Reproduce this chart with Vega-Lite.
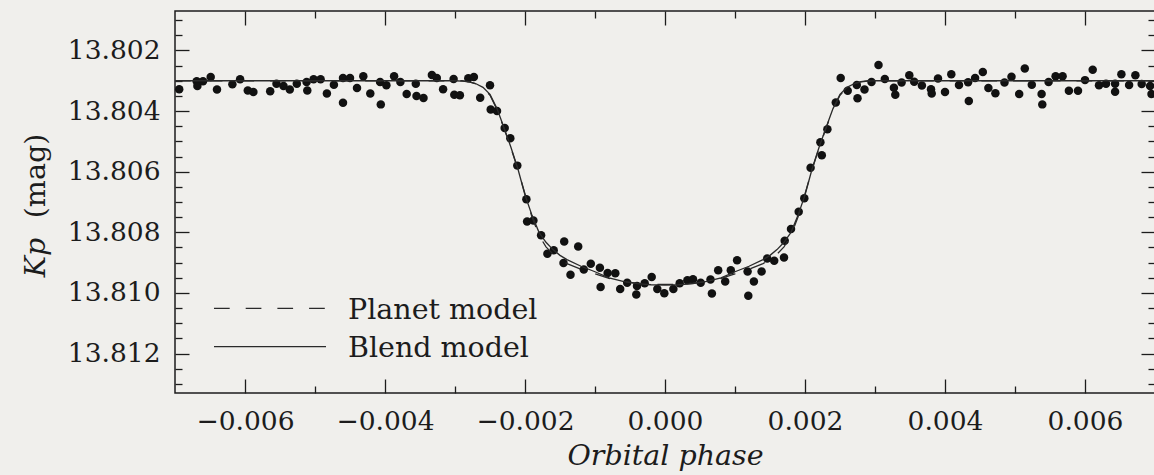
{
  "$schema": "https://vega.github.io/schema/vega-lite/v6.json",
  "width": 980,
  "height": 382,
  "autosize": {"type": "none"},
  "padding": {"left": 175, "top": 11, "right": 0, "bottom": 82},
  "background": "#f0efec",
  "config": {
    "view": {"stroke": "#1c1c1c", "strokeWidth": 1.5},
    "font": "DejaVu Serif",
    "axis": {
      "domain": false,
      "grid": false,
      "tickColor": "#1c1c1c",
      "tickWidth": 1.3,
      "labelFont": "DejaVu Serif",
      "labelFontSize": 26.5,
      "labelColor": "#1c1c1c",
      "titleFont": "DejaVu Serif",
      "titleFontSize": 28.5,
      "titleFontWeight": "normal",
      "titleColor": "#1c1c1c"
    }
  },
  "datasets": {
    "phot": [
      {"phase": -0.00694, "kp": 13.80328}, {"phase": -0.00669, "kp": 13.80302}, {"phase": -0.00668, "kp": 13.80317},
      {"phase": -0.0066, "kp": 13.80302}, {"phase": -0.00649, "kp": 13.80288}, {"phase": -0.0064, "kp": 13.80329},
      {"phase": -0.00618, "kp": 13.80312}, {"phase": -0.00607, "kp": 13.80295}, {"phase": -0.00596, "kp": 13.80332},
      {"phase": -0.00588, "kp": 13.80337}, {"phase": -0.00564, "kp": 13.80335}, {"phase": -0.00555, "kp": 13.8031},
      {"phase": -0.00545, "kp": 13.80317}, {"phase": -0.00536, "kp": 13.80329}, {"phase": -0.00526, "kp": 13.8031},
      {"phase": -0.00512, "kp": 13.80304}, {"phase": -0.00511, "kp": 13.80332}, {"phase": -0.00502, "kp": 13.80295},
      {"phase": -0.00492, "kp": 13.80295}, {"phase": -0.00483, "kp": 13.80342}, {"phase": -0.00473, "kp": 13.80313},
      {"phase": -0.0046, "kp": 13.80291}, {"phase": -0.0046, "kp": 13.80373}, {"phase": -0.0045, "kp": 13.80291},
      {"phase": -0.0044, "kp": 13.80324}, {"phase": -0.00431, "kp": 13.80285}, {"phase": -0.00421, "kp": 13.80342},
      {"phase": -0.00407, "kp": 13.80304}, {"phase": -0.00406, "kp": 13.80378}, {"phase": -0.00398, "kp": 13.80315},
      {"phase": -0.00387, "kp": 13.80285}, {"phase": -0.00378, "kp": 13.80304}, {"phase": -0.00369, "kp": 13.80344},
      {"phase": -0.00356, "kp": 13.8031}, {"phase": -0.00355, "kp": 13.8035}, {"phase": -0.00345, "kp": 13.80357},
      {"phase": -0.00333, "kp": 13.80281}, {"phase": -0.00326, "kp": 13.80291}, {"phase": -0.00317, "kp": 13.80328},
      {"phase": -0.00302, "kp": 13.80294}, {"phase": -0.00301, "kp": 13.80346}, {"phase": -0.00293, "kp": 13.80348},
      {"phase": -0.00281, "kp": 13.80292}, {"phase": -0.00273, "kp": 13.80288}, {"phase": -0.00264, "kp": 13.80356},
      {"phase": -0.0025, "kp": 13.80315}, {"phase": -0.00249, "kp": 13.80395}, {"phase": -0.0024, "kp": 13.804},
      {"phase": -0.00229, "kp": 13.80456}, {"phase": -0.00221, "kp": 13.8049}, {"phase": -0.00211, "kp": 13.8058},
      {"phase": -0.00198, "kp": 13.80691}, {"phase": -0.00197, "kp": 13.80764}, {"phase": -0.00188, "kp": 13.80761},
      {"phase": -0.00177, "kp": 13.8081}, {"phase": -0.00168, "kp": 13.80871}, {"phase": -0.00159, "kp": 13.80859},
      {"phase": -0.00144, "kp": 13.8083}, {"phase": -0.00145, "kp": 13.80901}, {"phase": -0.00135, "kp": 13.8094},
      {"phase": -0.00124, "kp": 13.80847}, {"phase": -0.00116, "kp": 13.80923}, {"phase": -0.00106, "kp": 13.80904},
      {"phase": -0.00093, "kp": 13.80917}, {"phase": -0.00092, "kp": 13.8098}, {"phase": -0.00082, "kp": 13.80934},
      {"phase": -0.00071, "kp": 13.80935}, {"phase": -0.00064, "kp": 13.80987}, {"phase": -0.00054, "kp": 13.80966},
      {"phase": -0.0004, "kp": 13.80977}, {"phase": -0.00041, "kp": 13.81005}, {"phase": -0.00029, "kp": 13.80968},
      {"phase": -0.00019, "kp": 13.80947}, {"phase": -0.00011, "kp": 13.80987}, {"phase": -0.00001, "kp": 13.81001},
      {"phase": 0.00012, "kp": 13.80987}, {"phase": 0.00021, "kp": 13.80968}, {"phase": 0.00032, "kp": 13.80958},
      {"phase": 0.0004, "kp": 13.80955}, {"phase": 0.00051, "kp": 13.80966}, {"phase": 0.00065, "kp": 13.80956},
      {"phase": 0.00067, "kp": 13.81002}, {"phase": 0.00076, "kp": 13.80925}, {"phase": 0.00086, "kp": 13.80962},
      {"phase": 0.00094, "kp": 13.80925}, {"phase": 0.00103, "kp": 13.80892}, {"phase": 0.00118, "kp": 13.80929},
      {"phase": 0.00119, "kp": 13.81009}, {"phase": 0.00127, "kp": 13.80962}, {"phase": 0.00138, "kp": 13.80929},
      {"phase": 0.00146, "kp": 13.80886}, {"phase": 0.00156, "kp": 13.80894}, {"phase": 0.0017, "kp": 13.80883},
      {"phase": 0.00171, "kp": 13.80828}, {"phase": 0.0018, "kp": 13.80789}, {"phase": 0.00191, "kp": 13.80732},
      {"phase": 0.00199, "kp": 13.80688}, {"phase": 0.00208, "kp": 13.80587}, {"phase": 0.00224, "kp": 13.80546},
      {"phase": 0.00222, "kp": 13.80503}, {"phase": 0.00232, "kp": 13.8046}, {"phase": 0.00244, "kp": 13.80372},
      {"phase": 0.00251, "kp": 13.80291}, {"phase": 0.00261, "kp": 13.80333}, {"phase": 0.00274, "kp": 13.80314},
      {"phase": 0.00275, "kp": 13.80358}, {"phase": 0.00285, "kp": 13.80329}, {"phase": 0.00295, "kp": 13.80304},
      {"phase": 0.00305, "kp": 13.80248}, {"phase": 0.00314, "kp": 13.80294}, {"phase": 0.00327, "kp": 13.80323},
      {"phase": 0.00329, "kp": 13.80346}, {"phase": 0.00338, "kp": 13.80306}, {"phase": 0.00349, "kp": 13.80282},
      {"phase": 0.00356, "kp": 13.80303}, {"phase": 0.00367, "kp": 13.80316}, {"phase": 0.0038, "kp": 13.80328},
      {"phase": 0.00381, "kp": 13.80342}, {"phase": 0.0039, "kp": 13.80293}, {"phase": 0.004, "kp": 13.80337},
      {"phase": 0.00409, "kp": 13.80279}, {"phase": 0.0042, "kp": 13.80314}, {"phase": 0.00433, "kp": 13.80305},
      {"phase": 0.00434, "kp": 13.80367}, {"phase": 0.00443, "kp": 13.80291}, {"phase": 0.00454, "kp": 13.80271},
      {"phase": 0.00462, "kp": 13.80324}, {"phase": 0.00472, "kp": 13.80341}, {"phase": 0.00485, "kp": 13.80306},
      {"phase": 0.00495, "kp": 13.80287}, {"phase": 0.00506, "kp": 13.80344}, {"phase": 0.00514, "kp": 13.8026},
      {"phase": 0.00524, "kp": 13.80313}, {"phase": 0.00538, "kp": 13.80344}, {"phase": 0.00539, "kp": 13.80378},
      {"phase": 0.00548, "kp": 13.80304}, {"phase": 0.00558, "kp": 13.80285}, {"phase": 0.00568, "kp": 13.80285},
      {"phase": 0.00577, "kp": 13.80333}, {"phase": 0.0059, "kp": 13.80333}, {"phase": 0.006, "kp": 13.80298},
      {"phase": 0.00611, "kp": 13.80264}, {"phase": 0.0062, "kp": 13.80315}, {"phase": 0.0063, "kp": 13.8031},
      {"phase": 0.00643, "kp": 13.8031}, {"phase": 0.00643, "kp": 13.80336}, {"phase": 0.00652, "kp": 13.80279},
      {"phase": 0.00663, "kp": 13.80314}, {"phase": 0.00672, "kp": 13.80282}, {"phase": 0.00681, "kp": 13.80311},
      {"phase": 0.00693, "kp": 13.80317}, {"phase": 0.00695, "kp": 13.80344}
    ],
    "blend": [
      {"phase": -0.007, "kp": 13.803}, {"phase": -0.003, "kp": 13.803}, {"phase": -0.0029, "kp": 13.80301},
      {"phase": -0.0028, "kp": 13.80304}, {"phase": -0.0027, "kp": 13.8031}, {"phase": -0.0026, "kp": 13.80322},
      {"phase": -0.0025, "kp": 13.80345}, {"phase": -0.0024, "kp": 13.80392}, {"phase": -0.0023, "kp": 13.80455},
      {"phase": -0.0022, "kp": 13.8052}, {"phase": -0.0021, "kp": 13.80592}, {"phase": -0.002, "kp": 13.80677},
      {"phase": -0.0019, "kp": 13.80744}, {"phase": -0.0018, "kp": 13.808}, {"phase": -0.0017, "kp": 13.80833},
      {"phase": -0.0016, "kp": 13.80857}, {"phase": -0.0015, "kp": 13.80876}, {"phase": -0.0014, "kp": 13.8089},
      {"phase": -0.0012, "kp": 13.80912}, {"phase": -0.001, "kp": 13.8093}, {"phase": -0.0008, "kp": 13.8095},
      {"phase": -0.0006, "kp": 13.80962}, {"phase": -0.0004, "kp": 13.80969}, {"phase": -0.0002, "kp": 13.80973},
      {"phase": 0, "kp": 13.80974}, {"phase": 0.0002, "kp": 13.80973}, {"phase": 0.0004, "kp": 13.80969},
      {"phase": 0.0006, "kp": 13.80962}, {"phase": 0.0008, "kp": 13.8095}, {"phase": 0.001, "kp": 13.8093},
      {"phase": 0.0012, "kp": 13.80912}, {"phase": 0.0014, "kp": 13.8089}, {"phase": 0.0015, "kp": 13.80876},
      {"phase": 0.0016, "kp": 13.80857}, {"phase": 0.0017, "kp": 13.80833}, {"phase": 0.0018, "kp": 13.808},
      {"phase": 0.0019, "kp": 13.80744}, {"phase": 0.002, "kp": 13.80677}, {"phase": 0.0021, "kp": 13.80592},
      {"phase": 0.0022, "kp": 13.8052}, {"phase": 0.0023, "kp": 13.80455}, {"phase": 0.0024, "kp": 13.80392},
      {"phase": 0.0025, "kp": 13.80345}, {"phase": 0.0026, "kp": 13.80322}, {"phase": 0.0027, "kp": 13.8031},
      {"phase": 0.0028, "kp": 13.80304}, {"phase": 0.0029, "kp": 13.80301}, {"phase": 0.003, "kp": 13.803},
      {"phase": 0.007, "kp": 13.803}
    ],
    "planet": [
      {"phase": -0.007, "kp": 13.803}, {"phase": -0.0029, "kp": 13.803}, {"phase": -0.0028, "kp": 13.80303},
      {"phase": -0.0027, "kp": 13.8031}, {"phase": -0.0026, "kp": 13.80323}, {"phase": -0.0025, "kp": 13.80348},
      {"phase": -0.0024, "kp": 13.80395}, {"phase": -0.0023, "kp": 13.80457}, {"phase": -0.0022, "kp": 13.80522},
      {"phase": -0.0021, "kp": 13.80594}, {"phase": -0.002, "kp": 13.80673}, {"phase": -0.0019, "kp": 13.8075},
      {"phase": -0.0018, "kp": 13.8081}, {"phase": -0.0017, "kp": 13.80848}, {"phase": -0.0016, "kp": 13.80872},
      {"phase": -0.0015, "kp": 13.8089}, {"phase": -0.0014, "kp": 13.80903}, {"phase": -0.0012, "kp": 13.80922},
      {"phase": -0.001, "kp": 13.80937}, {"phase": -0.0008, "kp": 13.80952}, {"phase": -0.0006, "kp": 13.80962},
      {"phase": -0.0004, "kp": 13.80968}, {"phase": -0.0002, "kp": 13.80971}, {"phase": 0, "kp": 13.80972},
      {"phase": 0.0002, "kp": 13.80971}, {"phase": 0.0004, "kp": 13.80968}, {"phase": 0.0006, "kp": 13.80962},
      {"phase": 0.0008, "kp": 13.80952}, {"phase": 0.001, "kp": 13.80937}, {"phase": 0.0012, "kp": 13.80922},
      {"phase": 0.0014, "kp": 13.80903}, {"phase": 0.0015, "kp": 13.8089}, {"phase": 0.0016, "kp": 13.80872},
      {"phase": 0.0017, "kp": 13.80848}, {"phase": 0.0018, "kp": 13.8081}, {"phase": 0.0019, "kp": 13.8075},
      {"phase": 0.002, "kp": 13.80673}, {"phase": 0.0021, "kp": 13.80594}, {"phase": 0.0022, "kp": 13.80522},
      {"phase": 0.0023, "kp": 13.80457}, {"phase": 0.0024, "kp": 13.80395}, {"phase": 0.0025, "kp": 13.80348},
      {"phase": 0.0026, "kp": 13.80323}, {"phase": 0.0027, "kp": 13.8031}, {"phase": 0.0028, "kp": 13.80303},
      {"phase": 0.0029, "kp": 13.803}, {"phase": 0.007, "kp": 13.803}
    ],
    "key": [
      {"series": "Planet model", "x": -0.006443, "x2": -0.004843, "y": 13.81051, "ty": 13.81087},
      {"series": "Blend model", "x": -0.006443, "x2": -0.004843, "y": 13.81177, "ty": 13.81211}
    ]
  },
  "layer": [
    {
      "data": {"name": "phot"},
      "mark": {"type": "circle", "size": 72, "color": "#111111", "opacity": 1},
      "encoding": {
        "x": {
          "field": "phase", "type": "quantitative",
          "scale": {"domain": [-0.007, 0.007], "nice": false, "zero": false},
          "axis": {
            "orient": "bottom", "values": [-0.006, -0.004, -0.002, 0, 0.002, 0.004, 0.006],
            "format": ".3f", "tickSize": -14, "labelPadding": 29.5,
            "title": "Orbital phase", "titleFontStyle": "italic", "titleY": 71.5, "titleBaseline": "alphabetic"
          }
        },
        "y": {
          "field": "kp", "type": "quantitative",
          "scale": {"domain": [13.8007, 13.8133], "reverse": true, "nice": false, "zero": false},
          "axis": {
            "orient": "left", "values": [13.802, 13.804, 13.806, 13.808, 13.81, 13.812],
            "format": ".3f", "tickSize": -14, "labelPadding": 29,
            "title": "(mag)", "titleX": -131, "titleY": 164.5, "titleBaseline": "alphabetic"
          }
        }
      }
    },
    {
      "data": {"name": "blend"},
      "mark": {"type": "line", "color": "#2a2a2a", "strokeWidth": 1.3},
      "encoding": {
        "x": {
          "field": "phase", "type": "quantitative",
          "scale": {"domain": [-0.007, 0.007], "nice": false, "zero": false},
          "axis": {
            "orient": "bottom", "values": [-0.005, -0.003, -0.001, 0.001, 0.003, 0.005],
            "tickSize": -7, "labels": false, "title": null
          }
        },
        "y": {
          "field": "kp", "type": "quantitative",
          "scale": {"domain": [13.8007, 13.8133], "reverse": true, "nice": false, "zero": false},
          "axis": {
            "orient": "left",
            "values": [13.801, 13.8015, 13.8025, 13.803, 13.8035, 13.8045, 13.805, 13.8055, 13.8065, 13.807, 13.8075, 13.8085, 13.809, 13.8095, 13.8105, 13.811, 13.8115, 13.8125, 13.813],
            "tickSize": -7, "labels": false,
            "title": "Kp", "titleFontStyle": "italic", "titleX": -131, "titleY": 246, "titleBaseline": "alphabetic"
          }
        }
      }
    },
    {
      "data": {"name": "planet"},
      "mark": {"type": "line", "color": "#2a2a2a", "strokeWidth": 1.3, "strokeDash": [15.7, 16]},
      "encoding": {
        "x": {
          "field": "phase", "type": "quantitative",
          "scale": {"domain": [-0.007, 0.007], "nice": false, "zero": false},
          "axis": {
            "orient": "top", "values": [-0.006, -0.004, -0.002, 0, 0.002, 0.004, 0.006],
            "tickSize": -14, "labels": false, "title": null
          }
        },
        "y": {
          "field": "kp", "type": "quantitative",
          "scale": {"domain": [13.8007, 13.8133], "reverse": true, "nice": false, "zero": false},
          "axis": {
            "orient": "right", "values": [13.802, 13.804, 13.806, 13.808, 13.81, 13.812],
            "tickSize": -14, "labels": false, "title": null
          }
        }
      }
    },
    {
      "data": {"name": "key"},
      "mark": {"type": "rule", "color": "#2a2a2a", "strokeWidth": 1.3},
      "encoding": {
        "x": {
          "field": "x", "type": "quantitative",
          "scale": {"domain": [-0.007, 0.007], "nice": false, "zero": false},
          "axis": {
            "orient": "top", "values": [-0.005, -0.003, -0.001, 0.001, 0.003, 0.005],
            "tickSize": -7, "labels": false, "title": null
          }
        },
        "x2": {"field": "x2"},
        "y": {
          "field": "y", "type": "quantitative",
          "scale": {"domain": [13.8007, 13.8133], "reverse": true, "nice": false, "zero": false},
          "axis": {
            "orient": "right",
            "values": [13.801, 13.8015, 13.8025, 13.803, 13.8035, 13.8045, 13.805, 13.8055, 13.8065, 13.807, 13.8075, 13.8085, 13.809, 13.8095, 13.8105, 13.811, 13.8115, 13.8125, 13.813],
            "tickSize": -7, "labels": false, "title": null
          }
        },
        "strokeDash": {
          "field": "series", "type": "nominal",
          "scale": {"domain": ["Planet model", "Blend model"], "range": [[15.7, 16], [1, 0]]},
          "legend": null
        }
      }
    },
    {
      "data": {"name": "key"},
      "mark": {"type": "text", "align": "left", "baseline": "alphabetic", "font": "DejaVu Serif", "fontSize": 28.5, "color": "#1c1c1c"},
      "encoding": {
        "x": {"field": "x2", "type": "quantitative", "scale": {"domain": [-0.007, 0.007], "nice": false, "zero": false}, "axis": null},
        "y": {"field": "ty", "type": "quantitative", "scale": {"domain": [13.8007, 13.8133], "reverse": true, "nice": false, "zero": false}, "axis": null},
        "xOffset": {"value": 22},
        "text": {"field": "series"}
      }
    }
  ],
  "resolve": {"axis": {"x": "independent", "y": "independent"}}
}
